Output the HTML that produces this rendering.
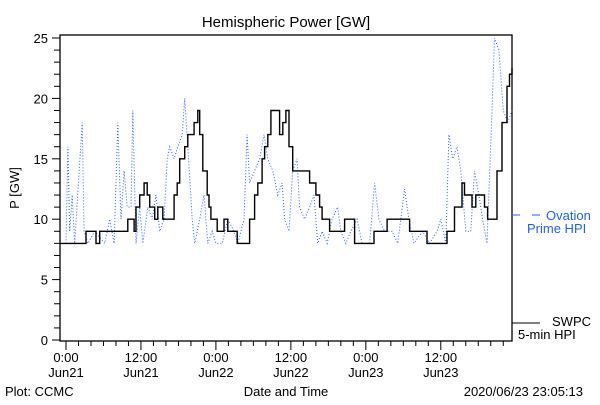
<!DOCTYPE html>
<html><head><meta charset="utf-8"><style>
body{margin:0;background:#fff}
svg text{font-family:"Liberation Sans",sans-serif;font-size:13px}
</style></head><body>
<svg id="c" width="600" height="400" xmlns="http://www.w3.org/2000/svg">
<rect width="600" height="400" fill="#fff"/>
<text x="286" y="27" text-anchor="middle" font-size="15" style="font-size:15px">Hemispheric Power [GW]</text>
<text transform="translate(19,188) rotate(-90)" text-anchor="middle">P [GW]</text>
<text x="5" y="396">Plot: CCMC</text>
<text x="286" y="396" text-anchor="middle">Date and Time</text>
<text x="583" y="396" text-anchor="end">2020/06/23 23:05:13</text>
<g id="axes"></g>
<g id="series"></g>
<g>
<line x1="512" y1="215" x2="520" y2="215" stroke="#1f5fff"/>
<line x1="532" y1="215" x2="540" y2="215" stroke="#1f5fff"/>
<text x="546" y="220" fill="#1f5fff">Ovation</text>
<text x="527" y="233" fill="#1f5fff">Prime HPI</text>
</g>
<g>
<line x1="512" y1="323" x2="540" y2="323" stroke="#000"/>
<text x="552" y="326">SWPC</text>
<text x="518" y="339">5-min HPI</text>
</g>
</svg>
<script>
const yTicks=[0,5,10,15,20,25];
const xTickHours=[0,12,24,36,48,60];
const xTickTimes=["0:00","12:00","0:00","12:00","0:00","12:00"];
const xTickDays=["Jun21","Jun21","Jun22","Jun22","Jun23","Jun23"];
const swpcHours=[-0.96,3.2,4.8,5.4,9.9,10.9,11.2,11.8,12.5,13,13.4,14.2,14.7,15.5,17,17.3,17.8,18.2,19,19.5,20.5,21.1,21.4,21.9,22.6,22.9,23.2,24.2,25.3,25.9,27.4,28.8,29.4,30.2,30.7,31.4,31.8,32.3,32.8,33.6,34.2,34.7,35.2,35.7,36.3,38.4,39,40,40.6,41,42.2,44.6,46.2,49.3,51.4,53.1,55,57.8,61,62.2,63.4,63.8,65,65.6,67,67.5,68.3,69,69.8,70.6,71,71.4];
const swpcValues=[8,9,8,9,10,9,11,12,13,12,11,10,11,10,10,12,13,15,16,17,18,19,17,14,12,11,10,9,10,9,8,8,10,12,13,15,16,17,19,19,17,18,19,16,14,14,13,12,11,10,9,10,8,9,10,10,9,8,9,11,13,12,11,12,11,10,10,14,18,21,22,22.5];
const ovHours=[-0.96,0,0.3,0.6,1,1.4,2.6,2.9,3.5,4.6,6.2,7,7.7,8.3,8.8,9.3,9.8,10.4,10.7,11.2,11.8,12.3,13.1,13.8,14.4,15,15.7,16.2,16.6,17.3,17.9,18.6,19,19.5,20.2,20.6,21.4,22.1,22.7,23.4,24,25,25.9,26.9,27.5,28.5,29,29.4,30.2,31,31.7,32.3,33.1,33.9,34.6,35,35.7,36.3,37,37.4,38.2,39,39.7,40.3,41,41.8,42.6,43.5,44,44.8,45.6,46.6,47.4,48.6,49.4,50.1,51,52.2,53.1,54.2,54.9,55.7,57.1,58.2,59.4,60,60.8,61.3,61.9,62.6,63.2,64,64.8,65.4,66.1,66.7,67.4,68.2,68.6,69.3,70,70.7,71.4];
const ovValues=[8,8,16,9,12,8,18,9,8,9,8,10,8,18,10,14,11,11,19,8,11,8,11,10,12,9,10,15,16,15,16,17,20,16,10,8,10,12,8,9,8,8,10,9,8,10,17,13,14,15,17,15,14,12,13,10,9,14,15,11,10,11,12,8,9,8,10,11,9,8,9,10,8,8,13,10,9,9,8,12.5,10,8,9,8,9,10,8,17,15,16,14,9,9,14,12,10,8,19,25,24,19,18,19];
const X0=60,X1=512,Y0=341,Y1=35,H0=-0.96,H1=71.4,VMAX=25.1;
const xs=h=>X0+(h-H0)/(H1-H0)*(X1-X0);
const ys=v=>340-v*12.08;
const NS="http://www.w3.org/2000/svg";
function mk(tag,attrs,parent){const e=document.createElementNS(NS,tag);for(const k in attrs)e.setAttribute(k,attrs[k]);parent.appendChild(e);return e;}
const axes=document.getElementById('axes');
const frame=mk('rect',{x:X0,y:Y1,width:X1-X0,height:Y0-Y1,fill:'none',stroke:'#000','stroke-width':1.3},axes);


for(let v=0;v<=25;v++){
  const t=mk('line',{x1:X0-(v%5===0?8:6),x2:X0,y1:ys(v),y2:ys(v),stroke:'#000'},axes);
  
  
}
yTicks.forEach(v=>{
  const t=mk('text',{x:X0-12,y:ys(v)+5,'text-anchor':'end'},axes);
  t.textContent=v;
  
  
});
for(let h=0;h<=70;h+=2){
  const t=mk('line',{x1:xs(h),x2:xs(h),y1:Y0,y2:Y0+(h%12===0?9:5),stroke:'#000'},axes);
  
  
}
xTickHours.forEach((h,i)=>{
  const a=mk('text',{x:xs(h),y:362,'text-anchor':'middle'},axes);
  a.textContent=xTickTimes[i];
  
  
  const b=mk('text',{x:xs(h),y:377,'text-anchor':'middle'},axes);
  b.textContent=xTickDays[i];
  
  
});
const ser=document.getElementById('series');
let dOv='';
ovHours.forEach((h,i)=>{dOv+=(i?'L':'M')+xs(h).toFixed(1)+','+ys(ovValues[i]).toFixed(1);});
const ov=mk('path',{d:dOv,fill:'none',stroke:'#1f5fff','stroke-width':1,'stroke-dasharray':'1,2'},ser);


let dS='';
swpcHours.forEach((h,i)=>{
  if(i===0){dS+='M'+xs(h).toFixed(1)+','+ys(swpcValues[0]).toFixed(1);}
  else{dS+='H'+xs(h).toFixed(1)+'V'+ys(swpcValues[i]).toFixed(1);}
});
const sw=mk('path',{d:dS,fill:'none',stroke:'#000','stroke-width':1.4},ser);


</script>
</body></html>
